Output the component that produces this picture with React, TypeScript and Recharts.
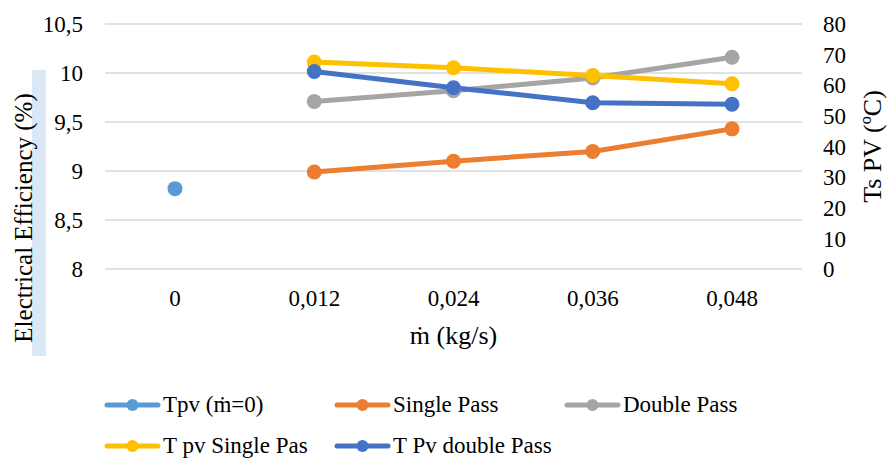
import { LineChart, Line, XAxis, YAxis, CartesianGrid, Legend, Label } from 'recharts';

const categories = ['0', '0,012', '0,024', '0,036', '0,048'];

// electrical efficiency (%), left axis
const tpvNoFlow = [8.82, null, null, null, null];
const singlePass = [null, 8.99, 9.1, 9.2, 9.43];
const doublePass = [null, 9.71, 9.82, 9.95, 10.16];

// panel temperature (ºC), right axis
const tpvSinglePass = [null, 67.6, 65.7, 63.2, 60.5];
const tpvDoublePass = [null, 64.5, 59.2, 54.3, 53.8];

const leftTicks = [8, 8.5, 9, 9.5, 10, 10.5];
const rightTicks = [0, 10, 20, 30, 40, 50, 60, 70, 80];

const seriesNames = ['Tpv (ṁ=0)', 'Single Pass', 'Double Pass', 'T pv Single Pas', 'T Pv double Pass'];

const data = categories.map((name, i) => ({
  name,
  tpv: tpvNoFlow[i],
  single: singlePass[i],
  double: doublePass[i],
  tSingle: tpvSinglePass[i],
  tDouble: tpvDoublePass[i],
}));

const FONT = "'Liberation Serif', 'Times New Roman', 'DejaVu Serif', serif";

const renderLegend = (props: any) => {
  const payload = [...(props.payload || [])].sort(
    (a: any, b: any) => seriesNames.indexOf(a.value) - seriesNames.indexOf(b.value)
  );
  return (
    <div
      style={{
        width: 700,
        paddingTop: 12,
        display: 'flex',
        flexWrap: 'wrap',
        rowGap: 17,
        fontFamily: FONT,
      }}
    >
      {payload.map((entry: any) => (
        <div key={entry.value} style={{ width: 230, height: 24, display: 'flex', alignItems: 'center' }}>
          <svg width={57} height={16}>
            <line x1={3} y1={8} x2={54} y2={8} stroke={entry.color} strokeWidth={5} strokeLinecap='round' />
            <circle cx={28.5} cy={8} r={6} fill={entry.color} />
          </svg>
          <span style={{ marginLeft: 2, fontSize: 23, lineHeight: '24px', color: '#000' }}>{entry.value}</span>
        </div>
      ))}
    </div>
  );
};

const LeftTitle = () => {
  const cx = 23;
  const cy = 218;
  return (
    <g>
      <rect x={32} y={70} width={14} height={286} fill='#DAE7F4' />
      <text
        x={cx}
        y={cy}
        transform={`rotate(-90, ${cx}, ${cy})`}
        textAnchor='middle'
        dominantBaseline='central'
        fontSize={25}
        fontFamily={FONT}
        fill='#000'
      >
        Electrical Efficiency (%)
      </text>
    </g>
  );
};

const RightTitle = (props: any) => {
  const { viewBox } = props;
  const cx = viewBox.x + 70;
  const cy = viewBox.y + viewBox.height / 2;
  return (
    <text
      x={cx}
      y={cy}
      transform={`rotate(-90, ${cx}, ${cy})`}
      textAnchor='middle'
      dominantBaseline='central'
      fontSize={26}
      fontFamily={FONT}
      fill='#000'
    >
      Ts PV (ºC)
    </text>
  );
};

const BottomTitle = (props: any) => {
  const { viewBox } = props;
  return (
    <text
      x={viewBox.x + viewBox.width / 2}
      y={viewBox.y + 66}
      textAnchor='middle'
      dominantBaseline='central'
      fontSize={26}
      fontFamily={FONT}
      fill='#000'
    >
      ṁ (kg/s)
    </text>
  );
};

const tickStyle = { fontSize: 23, fontFamily: FONT, fill: '#000' };

const App = () => {
  return (
    <div style={{ position: 'absolute', left: 0, top: 0, width: 888, height: 458, background: '#fff', fontFamily: FONT }}>
      <LineChart width={888} height={458} data={data} margin={{ top: 24, right: 0, left: 0, bottom: 0 }}>
        <CartesianGrid yAxisId='left' vertical={false} stroke='#D9D9D9' strokeWidth={1.5} />
        <XAxis
          dataKey='name'
          height={112}
          padding={{ left: 70, right: 70 }}
          axisLine={false}
          tickLine={false}
          tickSize={6}
          tickMargin={15}
          tick={tickStyle}
        >
          <Label content={BottomTitle} />
        </XAxis>
        <YAxis
          yAxisId='left'
          width={105}
          domain={[8, 10.5]}
          ticks={leftTicks}
          interval={0}
          axisLine={false}
          tickLine={false}
          tickSize={6}
          tickMargin={16}
          tick={tickStyle}
          tickFormatter={(v: number) => String(v).replace('.', ',')}
        >
          <Label content={LeftTitle} />
        </YAxis>
        <YAxis
          yAxisId='right'
          orientation='right'
          width={86}
          domain={[0, 80]}
          ticks={rightTicks}
          interval={0}
          axisLine={false}
          tickLine={false}
          tickSize={6}
          tickMargin={15}
          tick={{ ...tickStyle, textAnchor: 'start' }}
        >
          <Label content={RightTitle} />
        </YAxis>
        <Legend verticalAlign='bottom' align='left' content={renderLegend} wrapperStyle={{ left: 104, bottom: 0 }} />
        <Line yAxisId='left' dataKey='tpv' name={seriesNames[0]} stroke='#5B9BD5' strokeWidth={5}
          dot={{ r: 7.5, fill: '#5B9BD5', stroke: '#5B9BD5', strokeWidth: 0 }} activeDot={false} isAnimationActive={false} />
        <Line yAxisId='left' dataKey='single' name={seriesNames[1]} stroke='#ED7D31' strokeWidth={5}
          dot={{ r: 7.5, fill: '#ED7D31', stroke: '#ED7D31', strokeWidth: 0 }} activeDot={false} isAnimationActive={false} />
        <Line yAxisId='left' dataKey='double' name={seriesNames[2]} stroke='#A5A5A5' strokeWidth={5}
          dot={{ r: 7.5, fill: '#A5A5A5', stroke: '#A5A5A5', strokeWidth: 0 }} activeDot={false} isAnimationActive={false} />
        <Line yAxisId='right' dataKey='tSingle' name={seriesNames[3]} stroke='#FFC000' strokeWidth={5}
          dot={{ r: 7.5, fill: '#FFC000', stroke: '#FFC000', strokeWidth: 0 }} activeDot={false} isAnimationActive={false} />
        <Line yAxisId='right' dataKey='tDouble' name={seriesNames[4]} stroke='#4472C4' strokeWidth={5}
          dot={{ r: 7.5, fill: '#4472C4', stroke: '#4472C4', strokeWidth: 0 }} activeDot={false} isAnimationActive={false} />
      </LineChart>
    </div>
  );
};

export default App;
